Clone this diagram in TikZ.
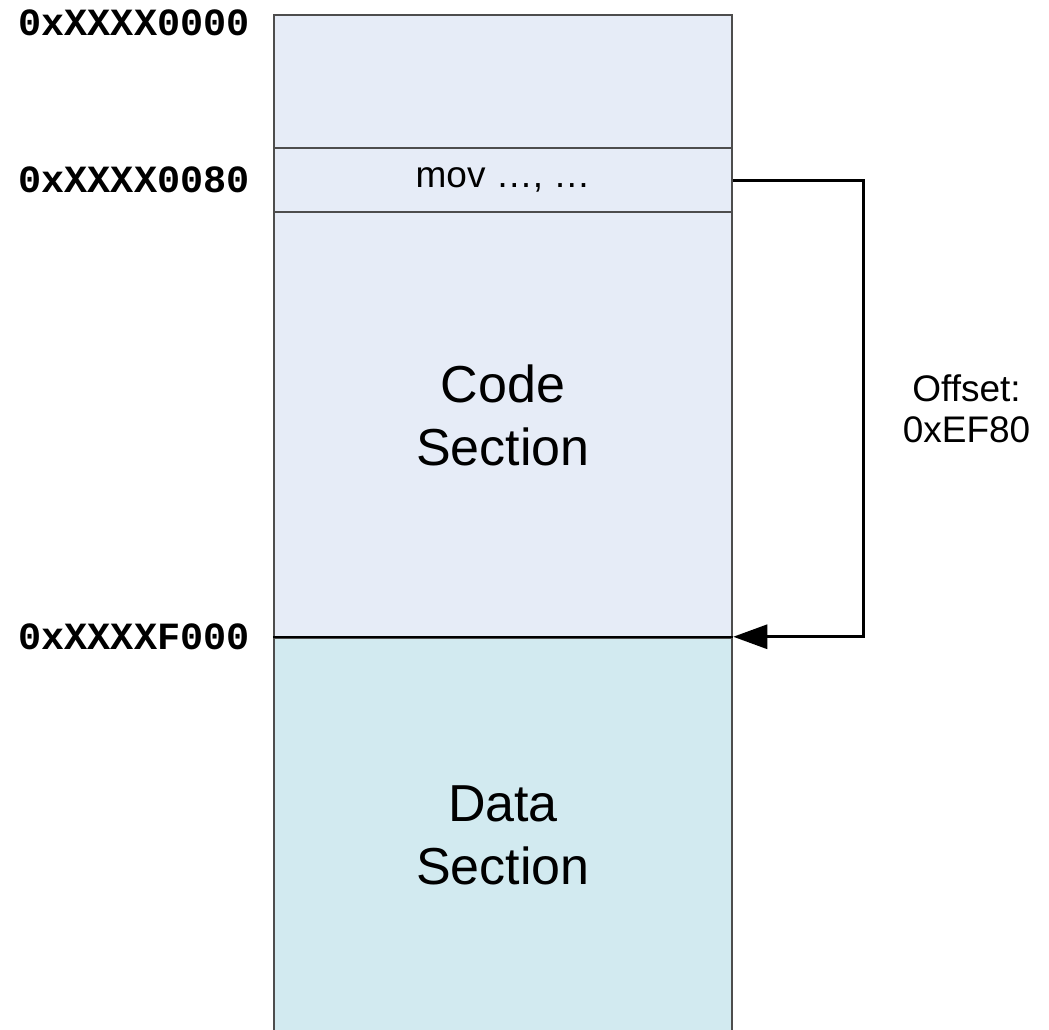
\documentclass[tikz,border=0pt]{standalone}
\usepackage{fontspec}
\setmainfont{Liberation Sans}
\setmonofont{Liberation Mono}
\usepackage{tikz}
\usetikzlibrary{arrows.meta,positioning}
\definecolor{codeblue}{HTML}{E6ECF7}
\definecolor{datablue}{HTML}{D2EAF0}
\definecolor{edgegray}{HTML}{4D4D4D}
\tikzset{
  memA/.style={ draw=edgegray, line width=2.5pt, fill=codeblue, minimum width=458pt, inner sep=0pt }
}
\tikzset{
  memB/.style={ draw=edgegray, line width=2.5pt, fill=datablue, minimum width=458pt, inner sep=0pt }
}
\tikzset{
  addr/.style={ font=\fontsize{38.5}{40}\selectfont\ttfamily\bfseries, inner sep=0pt }
}
\tikzset{
  jmp/.style={ line width=3pt, -{Triangle[length=34pt,width=24pt]} }
}

\begin{document}
\begin{tikzpicture}[x=1pt,y=-1pt]
      \clip (0,0) rectangle (1049,1029);
      \node[memA, minimum height=133pt] (top) at (503,81.5) {};
      \node[memA, minimum height=426pt, align=center, font=\fontsize{52}{63}\selectfont] (code) at (503,425) {Code\\Section\rule[-20pt]{0pt}{0pt}};
      \node[memB, minimum height=395pt, align=center, font=\fontsize{52}{63}\selectfont] (data) at (503,835.5) {Data\\Section};
      \node[memA, minimum height=64pt, font=\fontsize{37}{41}\selectfont] (mov) at (503,180) {mov …, …};
      \draw[line width=1.5pt] (data.north west) -- (data.north east);

      \node[addr, left=23pt of top.north west, yshift=-9pt] (a0) {0xXXXX0000};
      \node[addr, left=23pt of mov.west] (a80) {0xXXXX0080};
      \node[addr, left=23pt of data.north west] (aF000) {0xXXXXF000};

      \draw[jmp] (mov.east) -- ++(130,0) |- node[pos=0.25, right=38pt, align=center, inner sep=0pt, font=\fontsize{37}{41}\selectfont] (ofs) {Offset:\\0xEF80} (data.north east);
    \end{tikzpicture}
\end{document}
